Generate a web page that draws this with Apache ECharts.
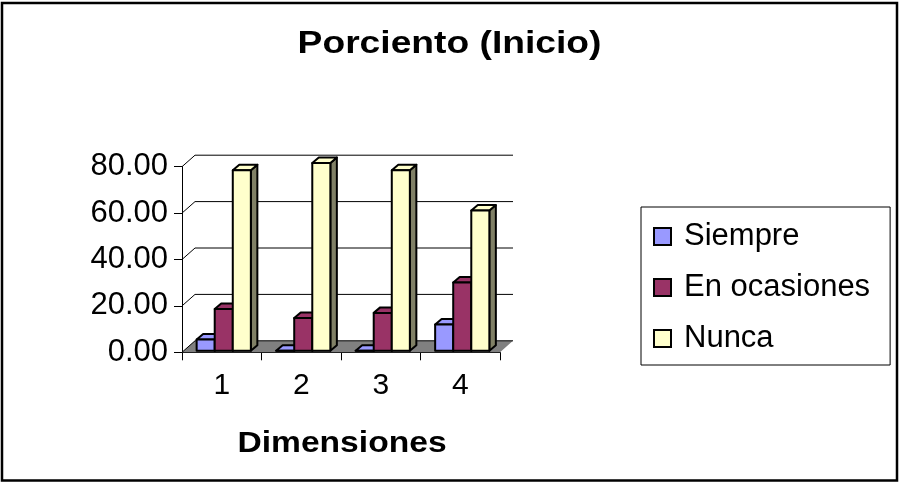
<!DOCTYPE html>
<html>
<head>
<meta charset="utf-8">
<title>Porciento (Inicio)</title>
<script src="https://cdn.jsdelivr.net/npm/echarts@6/dist/echarts.min.js"></script>
<style>
  html, body { margin: 0; padding: 0; background: #fff; }
  #chart { width: 899px; height: 483px; }
</style>
</head>
<body>
<div id="chart"></div>
<script>
// Chart data
const categories = ['1', '2', '3', '4'];
const seriesNames = ['Siempre', 'En ocasiones', 'Nunca'];
const siempre = [4.8, 0.0, 0.0, 11.3];
const enOcasiones = [18.0, 14.1, 16.3, 29.4];
const nunca = [77.8, 80.9, 77.8, 60.4];
const yTicks = [0, 20, 40, 60, 80];

const seriesValues = [siempre, enOcasiones, nunca];
const seriesColors = ['#9999FF', '#993366', '#FFFFCC'];
const sideColors = ['#4C4C80', '#4C1A33', '#808066'];

const FONT = '"Liberation Sans", Arial, sans-serif';

// 3D projection offsets (pixels)
const WALL = [13, -11.5];     // depth of the back wall relative to the front plane
const BAR_FRONT = [2, -1.6];  // front face of the columns
const BAR_DEPTH = [6.5, -5.5];// column depth
const BAR_DIV = 4.4;          // category width / column width

const chart = echarts.init(document.getElementById('chart'), null, { renderer: 'canvas' });

// Floor, back-wall gridlines and side-wall tick connectors
function wallRender(params, api) {
  const cs = params.coordSys;
  const x0 = cs.x, x1 = cs.x + cs.width;
  const y0 = api.coord([0, 0])[1];
  const children = [{
    type: 'polygon',
    shape: { points: [[x0, y0], [x1, y0], [x1 + WALL[0], y0 + WALL[1]], [x0 + WALL[0], y0 + WALL[1]]] },
    style: { fill: '#808080', stroke: null }
  }];
  yTicks.forEach(function (t) {
    const y = api.coord([0, t])[1];
    children.push({
      type: 'polyline',
      shape: { points: [[x0, y], [x0 + WALL[0], y + WALL[1]], [x1 + WALL[0], y + WALL[1]]] },
      style: { stroke: '#000', lineWidth: 1, fill: null }
    });
  });
  return { type: 'group', children: children };
}

// 3D column: front face, top face and right side face
function columnRender(sIdx) {
  return function (params, api) {
    const cat = api.value(0);
    const v = api.value(1);
    const base = api.coord([cat, 0]);
    const top = api.coord([cat, v]);
    const bw = api.size([1, 0])[0] / BAR_DIV;
    const xl = base[0] - 1.5 * bw + sIdx * bw + BAR_FRONT[0];
    const xr = xl + bw;
    const yb = base[1] + BAR_FRONT[1];
    const yt = top[1] + BAR_FRONT[1];
    const dx = BAR_DEPTH[0], dy = BAR_DEPTH[1];
    const line = { stroke: '#000', lineWidth: 2, lineJoin: 'round' };
    return {
      type: 'group',
      children: [
        {
          type: 'polygon',
          shape: { points: [[xr, yt], [xr + dx, yt + dy], [xr + dx, yb + dy], [xr, yb]] },
          style: Object.assign({ fill: sideColors[sIdx] }, line)
        },
        {
          type: 'polygon',
          shape: { points: [[xl, yt], [xr, yt], [xr + dx, yt + dy], [xl + dx, yt + dy]] },
          style: Object.assign({ fill: seriesColors[sIdx] }, line)
        },
        {
          type: 'polygon',
          shape: { points: [[xl, yb], [xr, yb], [xr, yt], [xl, yt]] },
          style: Object.assign({ fill: seriesColors[sIdx] }, line)
        }
      ]
    };
  };
}

const series = [{
  type: 'custom',
  name: 'walls',
  renderItem: wallRender,
  data: [[0, 0]],
  encode: { x: 0, y: 1 },
  silent: true,
  z: 1
}];
seriesNames.forEach(function (name, i) {
  series.push({
    type: 'custom',
    name: name,
    renderItem: columnRender(i),
    itemStyle: { color: seriesColors[i] },
    data: seriesValues[i].map(function (v, k) { return [k, v]; }),
    encode: { x: 0, y: 1 },
    z: 2
  });
});

chart.setOption({
  animation: false,
  backgroundColor: '#fff',
  grid: { left: 182, top: 166.7, width: 318, height: 185.6 },
  xAxis: {
    type: 'category',
    data: categories,
    boundaryGap: true,
    axisLine: { show: true, lineStyle: { color: '#000', width: 1 } },
    axisTick: { show: true, length: 8, lineStyle: { color: '#000' } },
    axisLabel: { color: '#000', fontSize: 30, fontFamily: FONT, margin: 18 },
    splitLine: { show: false }
  },
  yAxis: {
    type: 'value',
    min: 0,
    max: 80,
    interval: 20,
    axisLine: { show: true, lineStyle: { color: '#000', width: 1 } },
    axisTick: { show: true, length: 8, lineStyle: { color: '#000' } },
    axisLabel: {
      color: '#000', fontSize: 31, fontFamily: FONT, margin: 14,
      formatter: function (v) { return v.toFixed(2); }
    },
    splitLine: { show: false }
  },
  legend: {
    data: seriesNames,
    orient: 'vertical',
    left: 641,
    top: 207,
    padding: [14, 20, 11, 12],
    itemGap: 20,
    itemWidth: 17,
    itemHeight: 17,
    icon: 'rect',
    itemStyle: { borderColor: '#000', borderWidth: 2 },
    backgroundColor: '#fff',
    borderColor: '#000',
    borderWidth: 1,
    textStyle: { color: '#000', fontSize: 31, fontFamily: FONT, lineHeight: 30, padding: [0, 0, 0, 8] }
  },
  graphic: [
    {
      type: 'rect',
      shape: { x: 2, y: 3, width: 895, height: 477.5 },
      style: { fill: null, stroke: '#000', lineWidth: 2.5 },
      z: 10
    },
    {
      type: 'text',
      x: 449.5,
      y: 44,
      scaleX: 1.2,
      style: { text: 'Porciento (Inicio)', font: 'bold 31px ' + FONT, fill: '#000', align: 'center', verticalAlign: 'middle' }
    },
    {
      type: 'text',
      x: 342,
      y: 444,
      scaleX: 1.12,
      style: { text: 'Dimensiones', font: 'bold 30px ' + FONT, fill: '#000', align: 'center', verticalAlign: 'middle' }
    }
  ],
  series: series
});
</script>
</body>
</html>
